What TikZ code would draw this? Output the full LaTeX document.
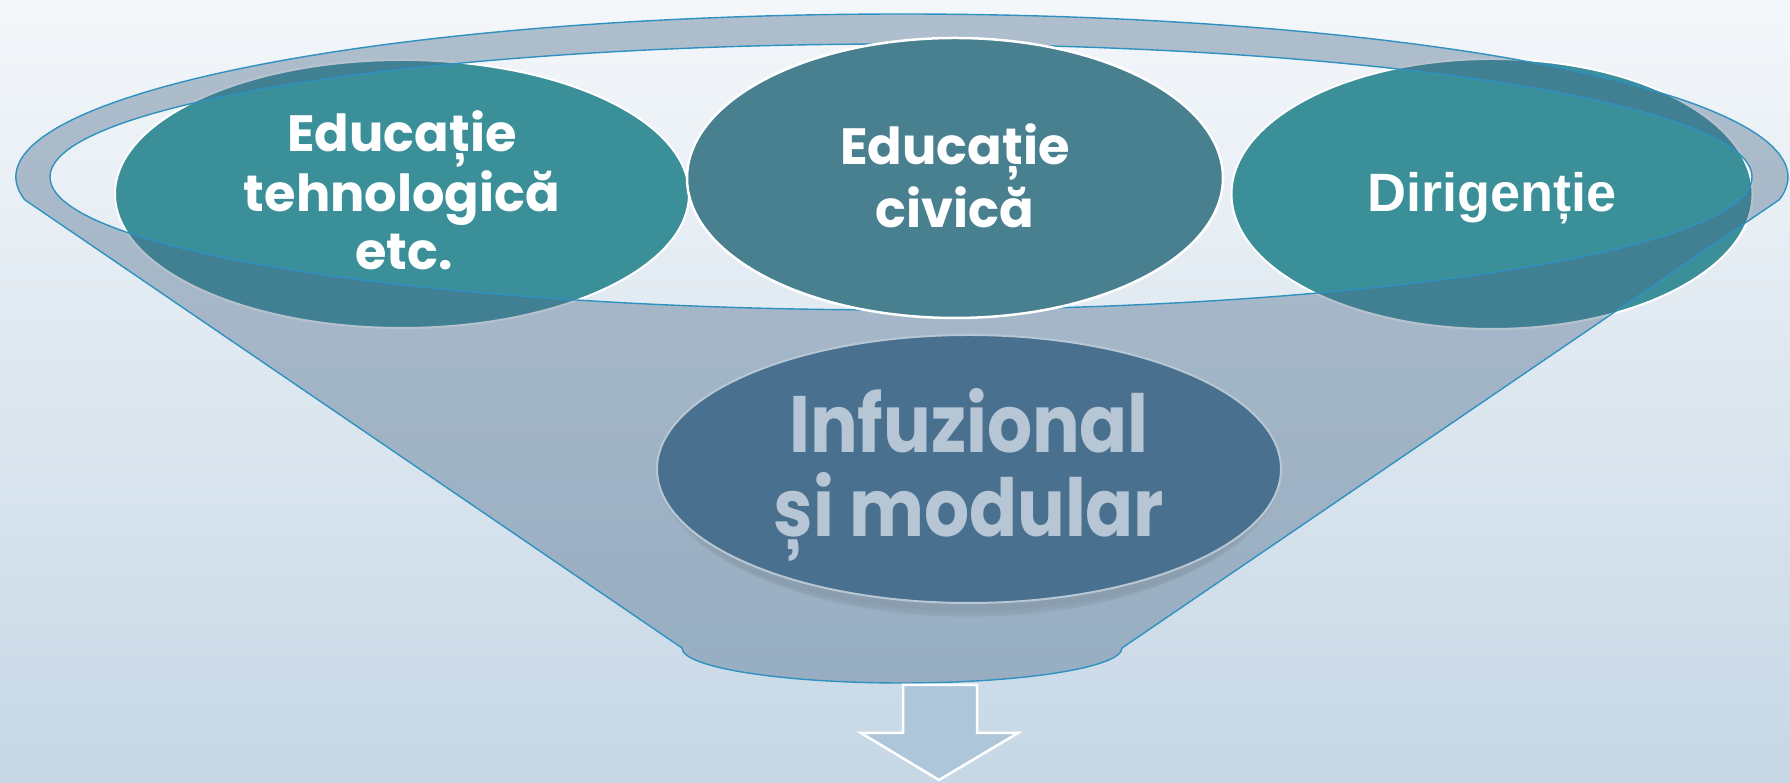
\documentclass[tikz,border=0pt]{standalone}
\usepackage{fontspec}
\usetikzlibrary{shapes.geometric}
\newfontfamily\gothic{Poppins}
\newfontfamily\gothicn{Poppins}[FakeStretch=0.885]
\newfontfamily\arialfont{Liberation Sans}
\definecolor{bgtop}{RGB}{244,247,250}
\definecolor{bgbot}{RGB}{198,215,229}
\definecolor{tealA}{RGB}{59,143,152}
\definecolor{civic}{RGB}{73,128,143}
\definecolor{slate}{RGB}{73,112,143}
\definecolor{funnelc}{RGB}{74,106,137}
\definecolor{rimline}{RGB}{47,145,193}
\definecolor{paletext}{RGB}{183,198,212}
\definecolor{paleline}{RGB}{184,199,212}
\definecolor{arrowc}{RGB}{174,198,218}
\tikzset{
  bubble/.style={ellipse, inner sep=0pt, line width=2pt},
  rim/.style={draw=rimline, line width=1.4pt, line join=round},
  lbl/.style={anchor=base, inner sep=0pt, text=white, font=\gothic\bfseries\fontsize{51}{58}\selectfont},
  biglbl/.style={anchor=base, inner sep=0pt, text=paletext, font=\gothicn\bfseries\fontsize{80}{84}\selectfont},
  arlbl/.style={anchor=base, inner sep=0pt, text=white, font=\arialfont\bfseries\fontsize{54}{60}\selectfont},
  softshadow/.style={black, opacity=0.025},
}
\begin{document}
\begin{tikzpicture}[x=1pt,y=1pt]
\useasboundingbox (0,0) rectangle (1790,783);
\shade[top color=bgtop,bottom color=bgbot] (0,0) rectangle (1790,783);
% side bubbles (under the funnel)
\node[bubble, fill=tealA, draw=white, minimum width=574pt, minimum height=268pt] (e1) at (402,589) {};
\node[bubble, fill=tealA, draw=white, minimum width=521pt, minimum height=270pt] (e3) at (1492,589) {};
% funnel
\fill[funnelc, fill opacity=0.4, even odd rule]
  (24.6,583.3) arc[start angle=188, end angle=-8, x radius=886, y radius=163]
  -- (1122,135) arc[start angle=0, end angle=-180, x radius=220, y radius=35] -- cycle
  (901,606) ellipse[x radius=851, y radius=133];
\draw[rim]
  (24.6,583.3) arc[start angle=188, end angle=-8, x radius=886, y radius=163]
  -- (1122,135) arc[start angle=0, end angle=-180, x radius=220, y radius=35] -- cycle;
\draw[rim] (901,606) ellipse[x radius=851, y radius=133];
% middle bubble
\node[bubble, fill=civic, draw=white, line width=2.5pt, minimum width=536pt, minimum height=280pt] (e2) at (955,605) {};
% bottom bubble with soft shadow
\fill[softshadow] (969,306) ellipse[x radius=310, y radius=134];
\fill[softshadow] (969,302) ellipse[x radius=305, y radius=133];
\fill[softshadow] (969,298) ellipse[x radius=298, y radius=131];
\fill[softshadow] (969,295) ellipse[x radius=290, y radius=129];
\node[bubble, fill=slate, draw=paleline, minimum width=624pt, minimum height=268pt] (e4) at (969,314) {};
% arrow
\draw[white, line width=2.5pt, fill=arrowc, line join=miter]
  (903,98) -- (977,98) -- (977,50) -- (1018,50) -- (939,3) -- (861,50) -- (903,50) -- cycle;
% texts
\node[lbl] (t1a) at (402,631) {Educație};
\node[lbl] (t1b) at (402,571) {tehnologică};
\node[lbl] (t1c) at (404,513) {etc.};
\node[lbl] (t2a) at (955,618) {Educație};
\node[lbl] (t2b) at (955,555) {civică};
\node[arlbl] (t3) at (1492,571) {Dirigenție};
\node[biglbl] (t4a) at (969,330) {Infuzional};
\node[biglbl] (t4b) at (969,246) {și modular};
\end{tikzpicture}
\end{document}
